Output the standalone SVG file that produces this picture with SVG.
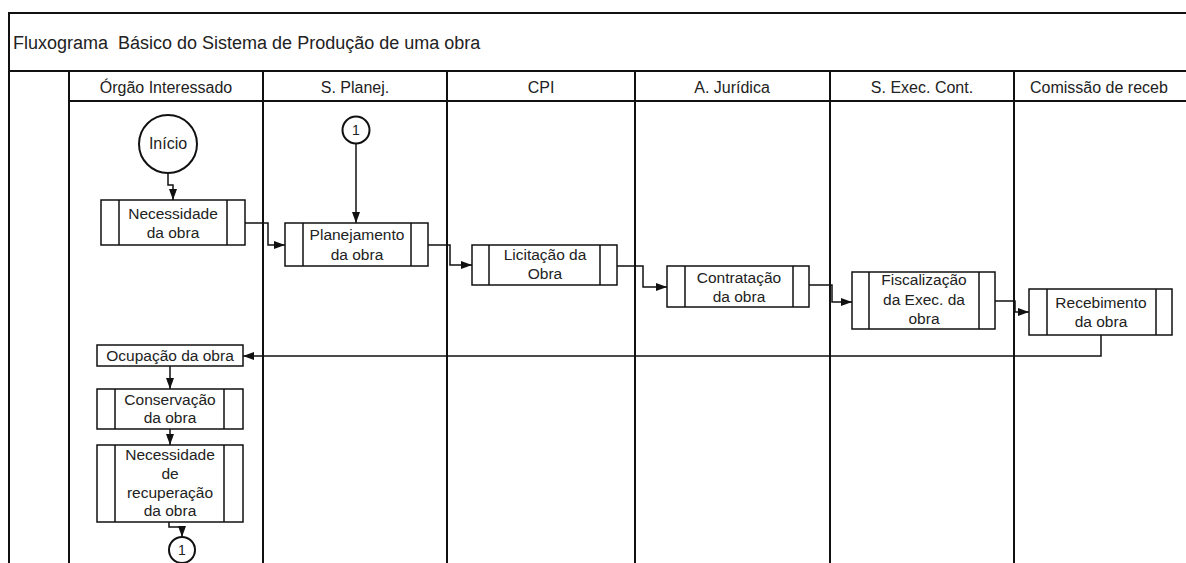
<svg xmlns="http://www.w3.org/2000/svg" width="1186" height="563" viewBox="0 0 1186 563">
<style>
.frame{fill:none;stroke:#111;stroke-width:2}
.box{fill:#fff;stroke:#111;stroke-width:1.5}
.inner{stroke:#111;stroke-width:1.5}
.circ{fill:#fff;stroke:#111;stroke-width:2}
.conn{fill:none;stroke:#111;stroke-width:1.5}
.t{font-family:"Liberation Sans",Arial,sans-serif;font-size:15.5px;fill:#222;text-anchor:middle}
.h{font-family:"Liberation Sans",Arial,sans-serif;font-size:16px;fill:#222;text-anchor:middle}
.title{font-family:"Liberation Sans",Arial,sans-serif;font-size:18px;fill:#222;white-space:pre}
.n{font-family:"Liberation Sans",Arial,sans-serif;font-size:14px;fill:#222;text-anchor:middle}
</style>
<defs>
<marker id="arr" markerUnits="userSpaceOnUse" markerWidth="11" markerHeight="10" viewBox="0 0 11 10" refX="11" refY="5" orient="auto">
<path d="M0,1 L11,5 L0,9 Z" fill="#111"/>
</marker>
</defs>
<rect width="1186" height="563" fill="#fff"/>
<g id="frame">
<path class="frame" d="M1186,13 H9 V563"/>
<path class="frame" d="M9,71 H1186"/>
<path class="frame" d="M69,101 H1186"/>
<path class="frame" d="M69,71 V563 M263,71 V563 M447,71 V563 M635,71 V563 M830,71 V563 M1014,71 V563"/>
<text class="title" x="13" y="49" xml:space="preserve">Fluxograma  Básico do Sistema de Produção de uma obra</text>
<text class="h" x="166" y="93">Órgão Interessado</text>
<text class="h" x="355" y="93">S. Planej.</text>
<text class="h" x="541" y="93">CPI</text>
<text class="h" x="732" y="93">A. Jurídica</text>
<text class="h" x="922" y="93">S. Exec. Cont.</text>
<text class="h" x="1030" y="93" style="text-anchor:start">Comissão de receb</text>
</g>
<g id="connectors">
<path class="conn" d="M168,173 V185 H173 V200" marker-end="url(#arr)"/>
<path class="conn" d="M245,223 H268 V245 H285" marker-end="url(#arr)"/>
<path class="conn" d="M356,143.5 V223" marker-end="url(#arr)"/>
<path class="conn" d="M428,245 H450 V265 H472" marker-end="url(#arr)"/>
<path class="conn" d="M617,266 H643 V287 H667" marker-end="url(#arr)"/>
<path class="conn" d="M809,285 H832 V302 H852" marker-end="url(#arr)"/>
<path class="conn" d="M995,301 H1015 V312 H1029" marker-end="url(#arr)"/>
<path class="conn" d="M1101,335 V356 H243" marker-end="url(#arr)"/>
<path class="conn" d="M170,366 V389" marker-end="url(#arr)"/>
<path class="conn" d="M170,429 V445" marker-end="url(#arr)"/>
<path class="conn" d="M169,522 V527 H182 V537" marker-end="url(#arr)"/>
</g>
<g id="inicio">
<circle class="circ" cx="168" cy="144" r="29"/>
<text class="h" x="168" y="149">Início</text>
</g>
<g id="conector1-topo">
<circle class="circ" cx="356" cy="130" r="13.5"/>
<text class="n" x="356" y="135">1</text>
</g>
<g id="necessidade">
<rect class="box" x="101" y="200" width="144" height="45"/>
<path class="inner" d="M119,200 V245 M227,200 V245"/>
<text class="t" x="173" y="219">Necessidade</text>
<text class="t" x="173" y="238">da obra</text>
</g>
<g id="planejamento">
<rect class="box" x="285" y="223" width="143" height="43"/>
<path class="inner" d="M303,223 V266 M411,223 V266"/>
<text class="t" x="357" y="240">Planejamento</text>
<text class="t" x="357" y="260">da obra</text>
</g>
<g id="licitacao">
<rect class="box" x="472" y="245" width="145" height="40"/>
<path class="inner" d="M489,245 V285 M600,245 V285"/>
<text class="t" x="545" y="260">Licitação da</text>
<text class="t" x="545" y="279">Obra</text>
</g>
<g id="contratacao">
<rect class="box" x="667" y="266" width="142" height="41"/>
<path class="inner" d="M685,266 V307 M793,266 V307"/>
<text class="t" x="739" y="283">Contratação</text>
<text class="t" x="739" y="302">da obra</text>
</g>
<g id="fiscalizacao">
<rect class="box" x="852" y="272" width="143" height="57"/>
<path class="inner" d="M869,272 V329 M979,272 V329"/>
<text class="t" x="924" y="285">Fiscalização</text>
<text class="t" x="924" y="305">da Exec. da</text>
<text class="t" x="924" y="324">obra</text>
</g>
<g id="recebimento">
<rect class="box" x="1029" y="289" width="143" height="46"/>
<path class="inner" d="M1047,289 V335 M1156,289 V335"/>
<text class="t" x="1101" y="308">Recebimento</text>
<text class="t" x="1101" y="327">da obra</text>
</g>
<g id="ocupacao">
<rect class="box" x="97" y="345" width="146" height="21"/>
<text class="t" x="170" y="361">Ocupação da obra</text>
</g>
<g id="conservacao">
<rect class="box" x="97" y="389" width="146" height="40"/>
<path class="inner" d="M115,389 V429 M224,389 V429"/>
<text class="t" x="170" y="405">Conservação</text>
<text class="t" x="170" y="423">da obra</text>
</g>
<g id="necessidade-recuperacao">
<rect class="box" x="97" y="445" width="146" height="77"/>
<path class="inner" d="M115,445 V522 M224,445 V522"/>
<text class="t" x="170" y="460">Necessidade</text>
<text class="t" x="170" y="479">de</text>
<text class="t" x="170" y="498">recuperação</text>
<text class="t" x="170" y="516">da obra</text>
</g>
<g id="conector1-base">
<circle class="circ" cx="182" cy="550" r="13"/>
<text class="n" x="182" y="555">1</text>
</g>
</svg>
